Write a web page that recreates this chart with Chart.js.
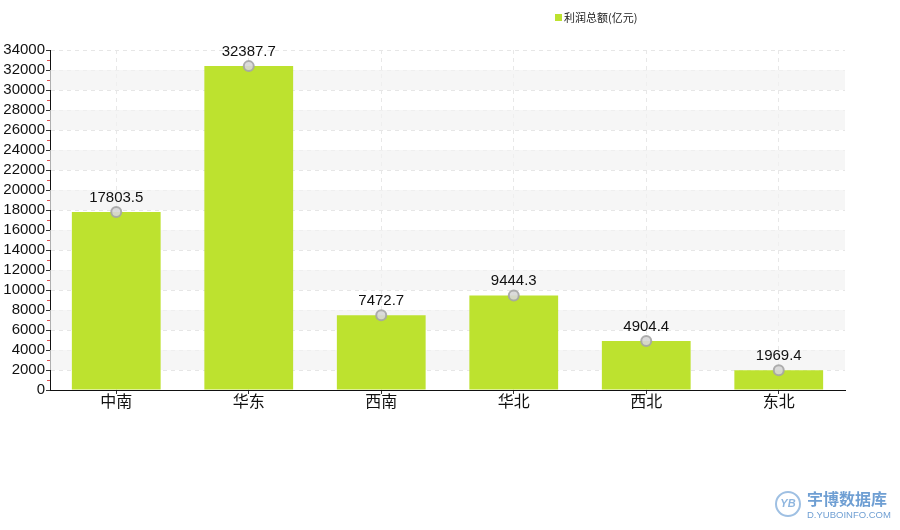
<!DOCTYPE html>
<html>
<head>
<meta charset="utf-8">
<script src="https://cdn.jsdelivr.net/npm/chart.js@4"></script>
<style>
  html, body { margin: 0; padding: 0; background: #fff; }
  #wrap { width: 900px; height: 530px; position: relative; }
</style>
</head>
<body>
<div id="wrap"><canvas id="profit_canvas"></canvas></div>
<script>
const regions = ['中南', '华东', '西南', '华北', '西北', '东北'];
const profit = [17803.5, 32387.7, 7472.7, 9444.3, 4904.4, 1969.4];
const seriesName = '利润总额(亿元)';
const yMax = 34000;
const yStep = 2000;

const barColor = '#bde22f';

// alternating grey bands, minor red ticks, legend, value labels, watermark
const decorPlugin = {
  id: 'decor',
  beforeDatasetsDraw(chart) {
    const { ctx, chartArea: a, scales: { y } } = chart;
    ctx.save();
    ctx.fillStyle = 'rgba(242,242,242,0.7)';
    for (let v = yStep; v < yMax; v += yStep * 2) {
      const top = y.getPixelForValue(v + yStep);
      const bot = y.getPixelForValue(v);
      ctx.fillRect(a.left, top, a.right - a.left, bot - top);
    }
    ctx.restore();
  },
  afterDraw(chart) {
    const { ctx, chartArea: a, scales: { y } } = chart;
    ctx.save();
    // minor ticks
    ctx.strokeStyle = '#e05050';
    ctx.lineWidth = 1;
    for (let v = yStep / 2; v < yMax; v += yStep) {
      const py = Math.round(y.getPixelForValue(v)) + 0.5;
      ctx.beginPath();
      ctx.moveTo(a.left - 3, py);
      ctx.lineTo(a.left, py);
      ctx.stroke();
    }
    // value labels
    const meta = chart.getDatasetMeta(1);
    ctx.fillStyle = '#111';
    ctx.font = '15px "Liberation Sans", "Noto Sans CJK SC", sans-serif';
    ctx.textAlign = 'center';
    ctx.textBaseline = 'bottom';
    meta.data.forEach((pt, i) => {
      ctx.fillText(profit[i].toFixed(1), pt.x, pt.y - 7);
    });
    // legend
    ctx.fillStyle = barColor;
    ctx.fillRect(555, 14, 7, 7);
    ctx.fillStyle = '#222';
    ctx.font = '11px "Noto Sans CJK SC", sans-serif';
    ctx.textAlign = 'left';
    ctx.textBaseline = 'middle';
    ctx.fillText(seriesName, 564, 18);
    // watermark
    ctx.strokeStyle = '#9fc0e3';
    ctx.lineWidth = 2;
    ctx.beginPath();
    ctx.arc(788, 504, 12, 0, Math.PI * 2);
    ctx.stroke();
    ctx.fillStyle = '#8fb6df';
    ctx.font = 'italic bold 11px "Liberation Sans", sans-serif';
    ctx.textAlign = 'center';
    ctx.fillText('YB', 788, 504);
    ctx.fillStyle = '#6f9fd3';
    ctx.font = 'bold 16px "Noto Sans CJK SC", sans-serif';
    ctx.textAlign = 'left';
    ctx.fillText('宇博数据库', 807, 499);
    ctx.font = '9.5px "Liberation Sans", sans-serif';
    ctx.fillText('D.YUBOINFO.COM', 807, 515);
    ctx.restore();
  }
};

const ctx = document.getElementById('profit_canvas');

new Chart(ctx, {
  type: 'bar',
  data: {
    labels: regions,
    datasets: [
      {
        label: seriesName,
        data: profit,
        backgroundColor: barColor,
        categoryPercentage: 1,
        barPercentage: 0.67,
        order: 2
      },
      {
        type: 'line',
        label: 'points',
        data: profit,
        showLine: false,
        pointRadius: 5,
        pointBorderWidth: 2,
        pointBackgroundColor: 'rgba(215,215,215,0.9)',
        pointBorderColor: 'rgba(165,165,165,0.9)',
        order: 1
      }
    ]
  },
  options: {
    responsive: true,
    maintainAspectRatio: false,
    animation: false,
    layout: {
      padding: { top: 50, right: 55, left: 0, bottom: 110 }
    },
    scales: {
      x: {
        grid: {
          offset: false,
          color: '#e8e8e8',
          tickColor: '#333',
          tickLength: 4,
          tickBorderDash: []
        },
        border: { display: true, color: '#111', dash: [4, 4] },
        ticks: {
          color: '#111',
          padding: -3,
          font: { size: 16, family: '"Noto Sans CJK SC", sans-serif' }
        },
        afterFit(scale) { scale.height = 30; }
      },
      y: {
        min: 0,
        max: yMax,
        grid: {
          color: '#e6e6e6',
          tickColor: '#333',
          tickLength: 4,
          tickBorderDash: []
        },
        border: { display: true, color: '#111', dash: [4, 4] },
        ticks: {
          stepSize: yStep,
          autoSkip: false,
          color: '#111',
          padding: 1,
          font: { size: 15, family: '"Liberation Sans", sans-serif' },
          callback: (v) => String(v)
        },
        afterFit(scale) { scale.width = 50; }
      }
    },
    plugins: {
      legend: { display: false },
      tooltip: { enabled: false }
    }
  },
  plugins: [decorPlugin]
});
</script>
</body>
</html>
